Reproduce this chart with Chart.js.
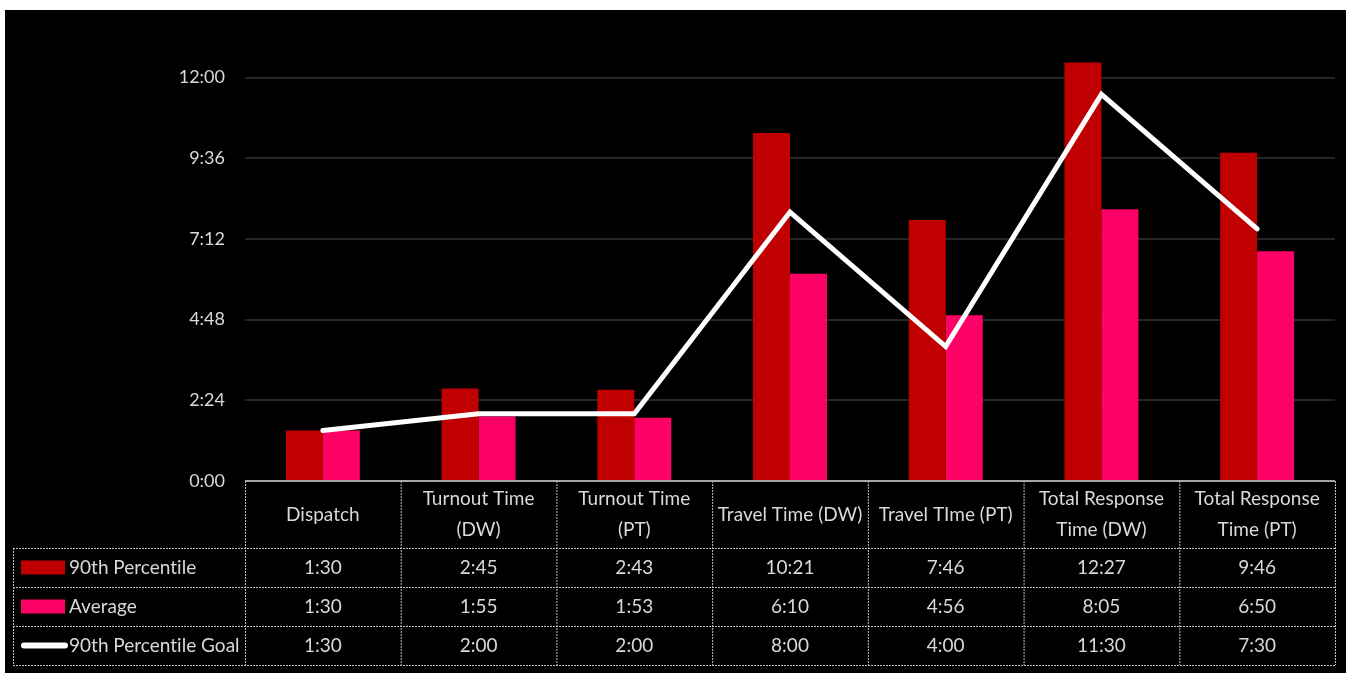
<!DOCTYPE html>
<html>
<head>
<meta charset="utf-8">
<script src="https://cdn.jsdelivr.net/npm/chart.js@4.4.1/dist/chart.umd.min.js"></script>
<style>
  html, body { margin: 0; padding: 0; background: #fff; }
  #wrap { position: absolute; left: 5px; top: 10px; width: 1341px; height: 663px; background: #000; }
</style>
</head>
<body>
<div id="wrap"><canvas id="responseChart"></canvas></div>
<script>
// Categories (multi-line header labels in the data table)
const categories = [
  ['Dispatch'],
  ['Turnout Time', '(DW)'],
  ['Turnout Time', '(PT)'],
  ['Travel Time (DW)'],
  ['Travel TIme (PT)'],
  ['Total Response', 'Time (DW)'],
  ['Total Response', 'Time (PT)']
];

// Values in seconds
const percentile90 = [90, 165, 163, 621, 466, 747, 586];   // 1:30 2:45 2:43 10:21 7:46 12:27 9:46
const average      = [90, 115, 113, 370, 296, 485, 410];   // 1:30 1:55 1:53 6:10 4:56 8:05 6:50
const goal90       = [90, 120, 120, 480, 240, 690, 450];   // 1:30 2:00 2:00 8:00 4:00 11:30 7:30

const seriesNames = ['90th Percentile', 'Average', '90th Percentile Goal'];
const tickStep = 144; // 2:24

const RED = '#C00000';
const PINK = '#FF0066';
const TEXT = '#d9d9d9';

function fmtTime(sec) {
  const m = Math.floor(sec / 60);
  const s = Math.round(sec % 60);
  return m + ':' + String(s).padStart(2, '0');
}

Chart.defaults.font.family = 'Lato, "Noto Sans", sans-serif';
Chart.defaults.font.size = 18;
Chart.defaults.color = TEXT;

// Draws the data table under the plot, columns taken from the x scale
const dataTablePlugin = {
  id: 'dataTable',
  afterDraw(chart) {
    const { ctx, chartArea, scales } = chart;
    const x = scales.x;
    const n = categories.length;
    const colW = (chartArea.right - chartArea.left) / n;
    const left = chartArea.left;
    const right = chartArea.right;
    const top = chartArea.bottom;
    const headH = 67;
    const rowH = 39;
    const legendLeft = 8;
    const rowsTop = top + headH;
    const bottom = rowsTop + rowH * 3;

    ctx.save();
    // cell borders
    ctx.strokeStyle = '#bfbfbf';
    ctx.lineWidth = 1;
    ctx.setLineDash([2, 1]);
    ctx.beginPath();
    for (let i = 0; i <= n; i++) {
      const px = left + i * colW;
      ctx.moveTo(px + 0.5, top);
      ctx.lineTo(px + 0.5, bottom);
    }
    ctx.moveTo(legendLeft + 0.5, rowsTop);
    ctx.lineTo(legendLeft + 0.5, bottom);
    for (let r = 0; r <= 3; r++) {
      const py = rowsTop + r * rowH;
      ctx.moveTo(legendLeft, py + 0.5);
      ctx.lineTo(right, py + 0.5);
    }
    ctx.stroke();

    // top line of table (axis line)
    ctx.setLineDash([]);
    ctx.strokeStyle = '#a6a6a6';
    ctx.lineWidth = 2;
    ctx.beginPath();
    ctx.moveTo(left, top);
    ctx.lineTo(right, top);
    ctx.stroke();

    // header labels
    ctx.fillStyle = TEXT;
    ctx.font = '19px ' + Chart.defaults.font.family;
    ctx.letterSpacing = '0.01px'; // stops the "ti" ligature
    ctx.textAlign = 'center';
    ctx.textBaseline = 'middle';
    const headMid = top + headH / 2;
    categories.forEach((lines, i) => {
      const cx = x.getPixelForValue(i);
      const lh = 31;
      const y0 = headMid - (lines.length - 1) * lh / 2;
      lines.forEach((t, j) => ctx.fillText(t, cx, y0 + j * lh));
    });

    // rows
    const rows = [percentile90, average, goal90];
    rows.forEach((vals, r) => {
      const cy = rowsTop + r * rowH + rowH / 2;
      vals.forEach((v, i) => {
        ctx.textAlign = 'center';
        ctx.fillText(fmtTime(v), x.getPixelForValue(i), cy);
      });
      // legend key
      if (r === 0 || r === 1) {
        ctx.fillStyle = r === 0 ? RED : PINK;
        ctx.fillRect(legendLeft + 8, cy - 7, 44, 14);
      } else {
        ctx.strokeStyle = '#ffffff';
        ctx.lineWidth = 6;
        ctx.lineCap = 'round';
        ctx.beginPath();
        ctx.moveTo(legendLeft + 11, cy);
        ctx.lineTo(legendLeft + 52, cy);
        ctx.stroke();
      }
      ctx.fillStyle = TEXT;
      ctx.textAlign = 'left';
      ctx.fillText(seriesNames[r], legendLeft + 56, cy);
    });
    ctx.restore();
  }
};

new Chart(document.getElementById('responseChart'), {
  type: 'bar',
  data: {
    labels: categories,
    datasets: [
      {
        type: 'line',
        label: seriesNames[2],
        data: goal90,
        borderColor: '#ffffff',
        borderWidth: 5,
        borderCapStyle: 'round',
        borderJoinStyle: 'miter',
        tension: 0,
        pointRadius: 0,
        order: 0
      },
      {
        label: seriesNames[0],
        data: percentile90,
        backgroundColor: RED,
        barPercentage: 1,
        categoryPercentage: 0.475,
        order: 1
      },
      {
        label: seriesNames[1],
        data: average,
        backgroundColor: PINK,
        barPercentage: 1,
        categoryPercentage: 0.475,
        order: 1
      }
    ]
  },
  options: {
    responsive: true,
    maintainAspectRatio: false,
    animation: false,
    layout: { padding: { top: 34, right: 11, bottom: 192, left: 0 } },
    plugins: {
      legend: { display: false },
      tooltip: { enabled: false }
    },
    scales: {
      x: { display: false },
      y: {
        min: 0,
        max: 780,
        border: { display: false },
        grid: { color: '#262626', lineWidth: 2, drawTicks: false },
        ticks: {
          stepSize: tickStep,
          padding: 20,
          color: TEXT,
          font: { size: 18 },
          callback: v => fmtTime(v)
        },
        afterBuildTicks: scale => {
          scale.ticks = scale.ticks.filter(t => t.value % tickStep === 0);
        },
        afterFit: scale => { scale.width = 240; }
      }
    }
  },
  plugins: [dataTablePlugin]
});
</script>
</body>
</html>
